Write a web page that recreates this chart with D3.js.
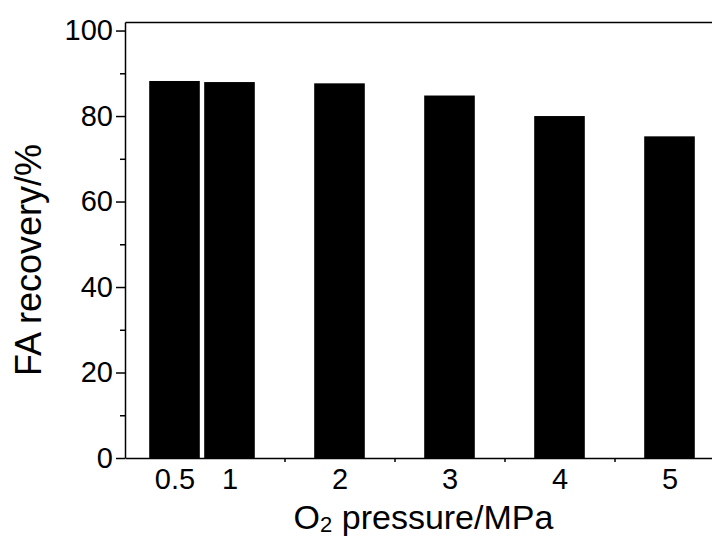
<!DOCTYPE html>
<html>
<head>
<meta charset="utf-8">
<script src="https://cdnjs.cloudflare.com/ajax/libs/d3/7.8.5/d3.min.js"></script>
<style>
    body { margin: 0; background: #fff; }
    svg { display: block; font-family: "Liberation Sans", Arial, sans-serif; }
    .axis path, .axis line { stroke: #000; stroke-width: 1.5; }
    .axis text { fill: #000; font-size: 29px; font-family: "Liberation Sans", Arial, sans-serif; }
</style>
</head>
<body>
<svg id="chart" width="712" height="539"></svg>
<script>
// O2 pressure (MPa) and FA recovery (%)
const pressures = [0.5, 1, 2, 3, 4, 5];
const recovery = [88.2, 87.95, 87.65, 84.8, 80.0, 75.25];
const xTickLabels = ["0.5", "1", "2", "3", "4", "5"];
const xMinorTicks = [1.5, 2.5, 3.5, 4.5];
const yTicks = [0, 20, 40, 60, 80, 100];
const yMinorTicks = [10, 30, 50, 70, 90];

const width = 712, height = 539;
const barWidth = 0.46; // in x units

const svg = d3.select("#chart");

// Scales
const x = d3.scaleLinear().domain([0.05, 5.45]).range([125, 719]);
const y = d3.scaleLinear().domain([0, 102]).range([458, 22]);

// Bars
svg.append("g").selectAll("rect")
    .data(pressures)
    .enter().append("rect")
    .attr("x", (d) => x(d - barWidth / 2))
    .attr("width", (d) => x(d + barWidth / 2) - x(d - barWidth / 2))
    .attr("y", (d, i) => y(recovery[i]))
    .attr("height", (d, i) => y(0) - y(recovery[i]))
    .attr("fill", "#000");

// Y axis (major + minor ticks)
svg.append("g").attr("class", "axis")
    .attr("transform", `translate(${x(0.05)},0)`)
    .call(d3.axisLeft(y).tickValues(yTicks).tickSize(9).tickSizeOuter(0).tickPadding(3));
svg.append("g").attr("class", "axis")
    .attr("transform", `translate(${x(0.05)},0)`)
    .call(d3.axisLeft(y).tickValues(yMinorTicks).tickSize(5).tickFormat(""))
    .select(".domain").remove();

// X axis
svg.append("g").attr("class", "axis")
    .attr("transform", `translate(0,${y(0)})`)
    .call(d3.axisBottom(x).tickValues(pressures).tickSize(0).tickSizeOuter(0).tickPadding(10)
        .tickFormat((d, i) => xTickLabels[i]));
svg.append("g").attr("class", "axis")
    .attr("transform", `translate(0,${y(0)})`)
    .call(d3.axisBottom(x).tickValues(xMinorTicks).tickSize(4).tickFormat(""))
    .select(".domain").remove();

// Top frame line
svg.append("g").attr("class", "axis")
    .attr("transform", `translate(0,${y(102)})`)
    .call(d3.axisTop(x).tickValues([]).tickSizeOuter(0));

// Axis titles
const xt = svg.append("text")
    .attr("x", 423.5).attr("y", 529)
    .attr("text-anchor", "middle")
    .style("font-size", "34px");
xt.append("tspan").text("O");
xt.append("tspan").attr("dy", 3).style("font-size", "22px").text("2");
xt.append("tspan").attr("dy", -3).text(" pressure/MPa");

svg.append("text")
    .attr("transform", "translate(41,260) rotate(-90)")
    .attr("text-anchor", "middle")
    .style("font-size", "36px")
    .text("FA recovery/%");
</script>
</body>
</html>
